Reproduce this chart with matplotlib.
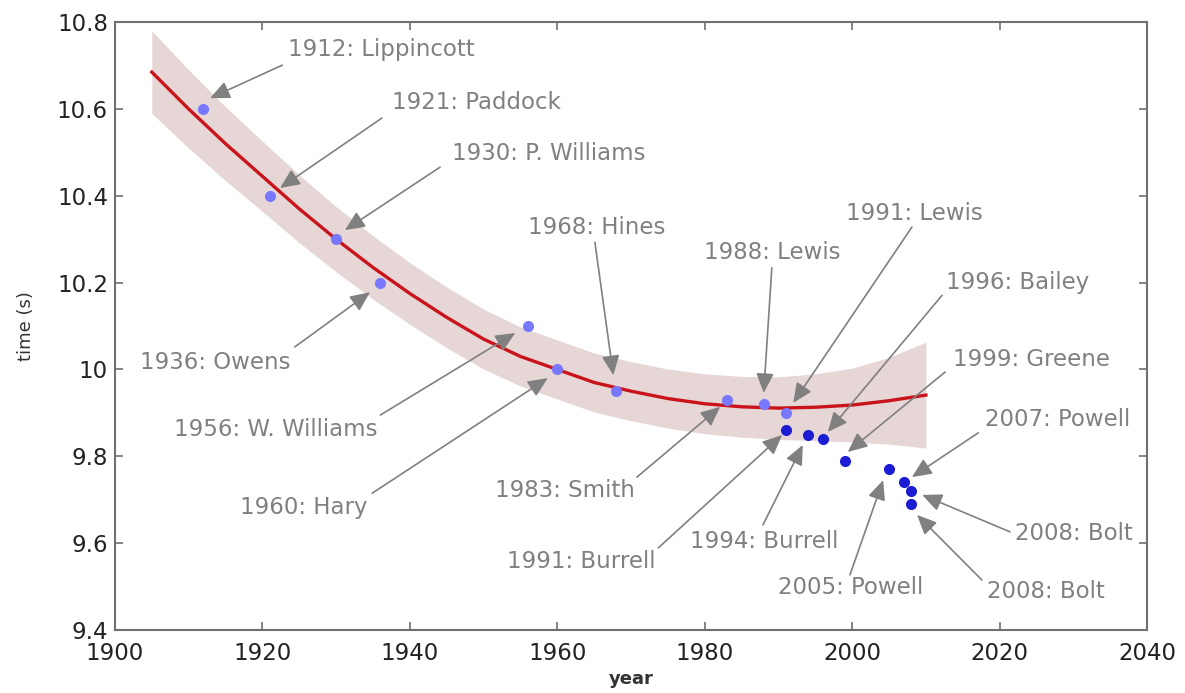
import numpy as np
import matplotlib.pyplot as plt
from matplotlib.ticker import MultipleLocator, FuncFormatter

# record times used for the fit (light) and later records (dark)
fit_years = [1912, 1921, 1930, 1936, 1956, 1960, 1968, 1983, 1988, 1991]
fit_times = [10.60, 10.40, 10.30, 10.20, 10.10, 10.00, 9.95, 9.93, 9.92, 9.90]
new_years = [1991, 1994, 1996, 1999, 2005, 2007, 2008, 2008]
new_times = [9.86, 9.85, 9.84, 9.79, 9.77, 9.74, 9.72, 9.69]

curve_years = [1905, 1910, 1915, 1920, 1925, 1930, 1935, 1940, 1945, 1950, 1955,
               1960, 1965, 1970, 1975, 1980, 1985, 1990, 1995, 2000, 2005, 2010]
curve_fit = [10.685, 10.600, 10.520, 10.445, 10.370, 10.300, 10.235, 10.175, 10.120,
             10.070, 10.030, 10.000, 9.970, 9.950, 9.933, 9.921, 9.914, 9.911,
             9.913, 9.918, 9.928, 9.941]
band_upper = [10.780, 10.690, 10.605, 10.526, 10.448, 10.375, 10.308, 10.246, 10.190,
              10.139, 10.098, 10.068, 10.038, 10.018, 10.001, 9.990, 9.984, 9.983,
              9.990, 10.003, 10.028, 10.063]
band_lower = [10.590, 10.510, 10.435, 10.364, 10.292, 10.225, 10.162, 10.104, 10.050,
              10.001, 9.962, 9.932, 9.902, 9.882, 9.865, 9.852, 9.844, 9.839,
              9.836, 9.833, 9.828, 9.819]

# (label, text pos, arrow tail, arrow head)
notes = [
    ('1912: Lippincott', (1936.1, 10.736), (1922.7, 10.701), (1912.9, 10.625)),
    ('1921: Paddock', (1949.0, 10.614), (1936.2, 10.579), (1922.4, 10.418)),
    ('1930: P. Williams', (1958.9, 10.498), (1944.1, 10.466), (1931.2, 10.321)),
    ('1936: Owens', (1913.6, 10.017), (1924.4, 10.052), (1934.6, 10.178)),
    ('1956: W. Williams', (1921.8, 9.861), (1936.0, 9.895), (1954.3, 10.084)),
    ('1960: Hary', (1925.6, 9.683), (1934.9, 9.715), (1958.7, 9.980)),
    ('1968: Hines', (1965.3, 10.328), (1965.1, 10.293), (1967.6, 9.987)),
    ('1983: Smith', (1961.0, 9.722), (1970.8, 9.752), (1982.1, 9.914)),
    ('1988: Lewis', (1989.1, 10.270), (1989.1, 10.234), (1988.0, 9.946)),
    ('1991: Lewis', (2008.4, 10.360), (2008.1, 10.328), (1992.0, 9.923)),
    ('1991: Burrell', (1963.2, 9.557), (1973.7, 9.589), (1990.5, 9.849)),
    ('1994: Burrell', (1988.0, 9.603), (1987.9, 9.642), (1993.3, 9.826)),
    ('1996: Bailey', (2022.5, 10.201), (2012.2, 10.171), (1996.7, 9.856)),
    ('1999: Greene', (2024.3, 10.022), (2012.6, 9.994), (1999.4, 9.810)),
    ('2007: Powell', (2027.9, 9.884), (2017.1, 9.854), (2008.1, 9.752)),
    ('2008: Bolt', (2030.1, 9.623), (2021.4, 9.626), (2009.5, 9.711)),
    ('2008: Bolt', (2026.3, 9.488), (2017.6, 9.515), (2008.8, 9.665)),
    ('2005: Powell', (1999.8, 9.497), (1999.7, 9.527), (2004.2, 9.745)),
]

fig = plt.figure(figsize=(11.85, 6.93), dpi=100)
ax = fig.add_axes([0.097, 0.091, 0.871, 0.877])

ax.fill_between(curve_years, band_lower, band_upper, color='#e6d6d6', lw=0)
ax.plot(curve_years, curve_fit, color='#c8141a', lw=2.4)
ax.plot(fit_years, fit_times, 'o', color='#7878ff', ms=8, mec='none')
ax.plot(new_years, new_times, 'o', color='#1c1cd2', ms=8, mec='none')

gray = '#808080'
for label, txt, tail, head in notes:
    ax.annotate('', xy=head, xytext=tail,
                arrowprops=dict(arrowstyle='-|>,head_length=0.8,head_width=0.36',
                                mutation_scale=15, color=gray, lw=1.2,
                                shrinkA=0, shrinkB=0))
    ax.text(txt[0], txt[1], label, color=gray, fontsize=16.5,
            ha='center', va='center')

ax.set_xlim(1900, 2040)
ax.set_ylim(9.4, 10.8)
ax.xaxis.set_major_locator(MultipleLocator(20))
ax.yaxis.set_major_locator(MultipleLocator(0.2))
ax.yaxis.set_major_formatter(FuncFormatter(lambda v, p: '%g' % round(v, 1)))
ax.tick_params(direction='in', length=6, width=1.2, color='#707070',
               top=True, right=True, labelsize=16.5, labelcolor='#222222')
ax.tick_params(axis='x', pad=9)
ax.tick_params(axis='y', pad=5)
for s in ax.spines.values():
    s.set_color('#707070')
    s.set_linewidth(1.5)

ax.set_xlabel('year', fontsize=13, fontweight='bold', color='#333333', labelpad=3)
ax.set_ylabel('time (s)', fontsize=13, color='#333333', labelpad=16)

fig.savefig('out.png', dpi=100)
